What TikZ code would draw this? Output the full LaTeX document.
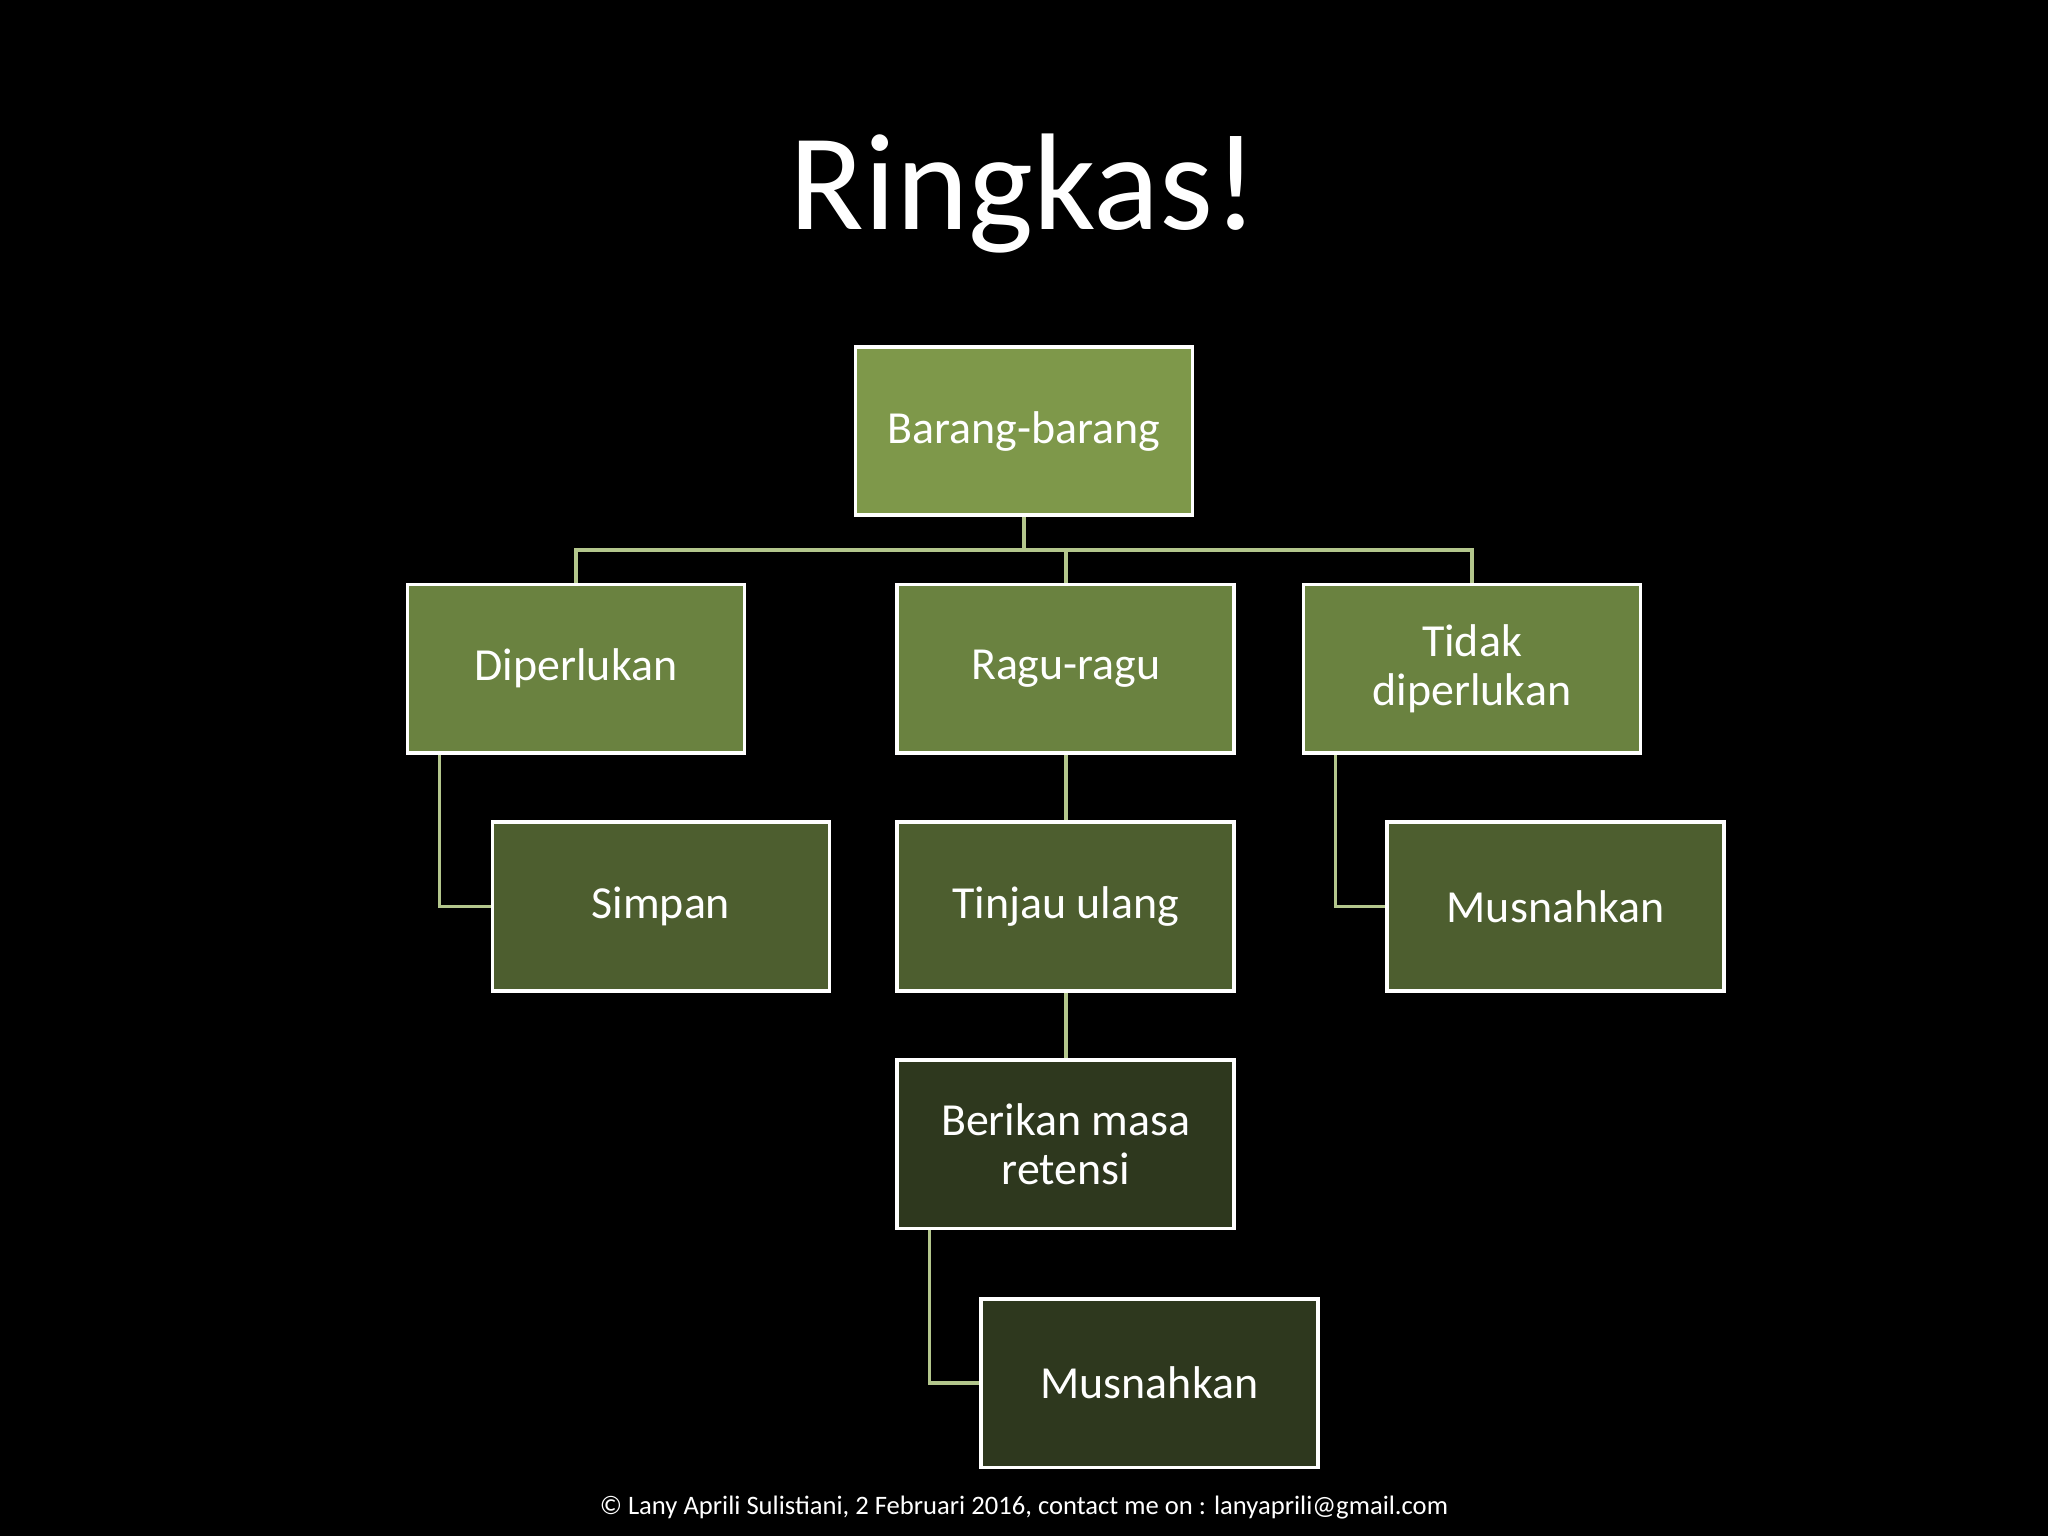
\documentclass[tikz,border=0pt]{standalone}
\usepackage{fontspec}
\setmainfont{Carlito}
\definecolor{c1}{HTML}{7E984A}
\definecolor{c2}{HTML}{6A8240}
\definecolor{c3}{HTML}{4D5E2F}
\definecolor{c4}{HTML}{2E381E}
\definecolor{ln}{HTML}{B3C68C}
\begin{document}
\begin{tikzpicture}[x=0.05cm,y=-0.05cm,
 box/.style={draw=white,line width=4pt,minimum width=12.9cm,minimum height=6.45cm,inner sep=0pt,text=white,font=\fontsize{50}{54}\selectfont,align=center},
 conn/.style={draw=ln,line width=4pt}]
\fill[black] (0,0) rectangle (1568,1176);
\node[text=white,font=\fontsize{150}{150}\selectfont] (title) at (784,148) {Ringkas!};
\node[box,fill=c1] (a) at (784,330) {Barang-barang};
\node[box,fill=c2] (b) at (441,512) {Diperlukan};
\node[box,fill=c2] (c) at (816,512) {Ragu-ragu};
\node[box,fill=c2] (d) at (1127,512) {Tidak\\diperlukan};
\node[box,fill=c3] (e) at (506,694) {Simpan};
\node[box,fill=c3] (f) at (816,694) {Tinjau ulang};
\node[box,fill=c3] (g) at (1191,694) {Musnahkan};
\node[box,fill=c4] (h) at (816,876) {Berikan masa\\retensi};
\node[box,fill=c4] (i) at (880,1059) {Musnahkan};
\coordinate (bus) at (784,421);
\begin{scope}[on background layer/.try]
\end{scope}
\draw[conn] (a.south) -- (bus);
\draw[conn] (b.north) |- (bus) -| (d.north);
\draw[conn] (c.north) -- (c.north |- bus);
\draw[conn] (c.south) -- (f.north);
\draw[conn] (f.south) -- (h.north);
\draw[conn] ([xshift=1.3cm]b.south west) |- (e.west);
\draw[conn] ([xshift=1.3cm]d.south west) |- (g.west);
\draw[conn] ([xshift=1.3cm]h.south west) |- (i.west);
\node[text=white,font=\fontsize{29}{32}\selectfont] (foot) at (784,1154) {© Lany Aprili Sulistiani, 2 Februari 2016, contact me on : lanyaprili@gmail.com};
\end{tikzpicture}
\end{document}
